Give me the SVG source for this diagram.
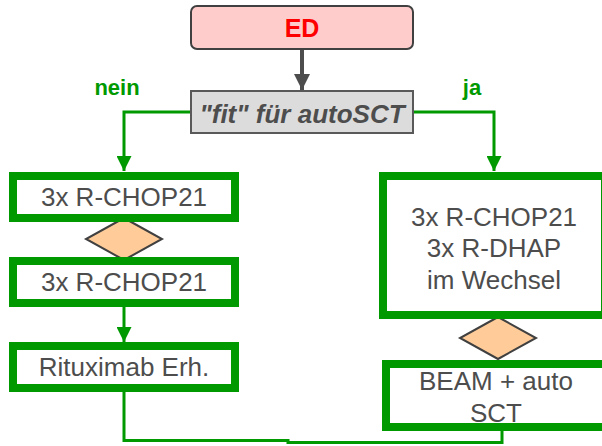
<svg xmlns="http://www.w3.org/2000/svg" width="602" height="446" viewBox="0 0 602 446">
<style>
.box{fill:#ffffff;stroke:#009900;stroke-width:8}
.dia{fill:#ffcc99;stroke:#404040;stroke-width:2}
.t{font-family:"Liberation Sans",Arial,sans-serif;font-size:26px;fill:#4d4d4d;text-anchor:middle}
.lbl{font-family:"Liberation Sans",Arial,sans-serif;font-size:22px;font-weight:bold;fill:#009900;text-anchor:middle}
.g{fill:none;stroke:#009900;stroke-width:3}
</style>
<defs>
<marker id="ag" markerUnits="userSpaceOnUse" markerWidth="16" markerHeight="15" refX="16" refY="8" orient="auto" viewBox="0 0 16 16">
<path d="M0,0 L16,8 L0,16 Z" fill="#009900"/>
</marker>
<marker id="ak" markerUnits="userSpaceOnUse" markerWidth="16" markerHeight="16" refX="16" refY="8" orient="auto" viewBox="0 0 16 16">
<path d="M0,0 L16,8 L0,16 Z" fill="#4d4d4d"/>
</marker>
</defs>
<rect width="602" height="446" fill="#ffffff"/>
<g id="connectors">
<line x1="302" y1="49" x2="302" y2="90" stroke="#4d4d4d" stroke-width="4" marker-end="url(#ak)"/>
<polyline class="g" points="190,112 124,112 124,171" marker-end="url(#ag)"/>
<polyline class="g" points="413,112 494,112 494,171" marker-end="url(#ag)"/>
<polyline class="g" points="124,307 124,342" marker-end="url(#ag)"/>
<polyline class="g" points="124,392 124,440.5 288,440.5 288,442.5 502,442.5 502,431"/>
</g>
<g id="ed">
<rect x="191" y="6" width="222" height="43" rx="6" fill="#ffcccc" stroke="#404040" stroke-width="2"/>
<text x="302" y="37" font-family="'Liberation Sans',Arial,sans-serif" font-size="25" font-weight="bold" fill="#ff0000" text-anchor="middle">ED</text>
</g>
<g id="fit">
<rect x="191" y="91" width="222" height="42" fill="#dcdcdc" stroke="#595959" stroke-width="2"/>
<text x="302" y="123" font-family="'Liberation Sans',Arial,sans-serif" font-size="26" font-weight="bold" font-style="italic" fill="#4d4d4d" text-anchor="middle">"fit" für autoSCT</text>
</g>
<g id="label-nein"><text class="lbl" x="117" y="95">nein</text></g>
<g id="label-ja"><text class="lbl" x="472" y="95">ja</text></g>
<g id="dia-left"><polygon class="dia" points="124,218 162,239 124,260 86,239"/></g>
<g id="dia-right"><polygon class="dia" points="498,317 536,338 498,359 460,338"/></g>
<g id="box-l1">
<rect class="box" x="13" y="176" width="222" height="42"/>
<text class="t" x="124" y="206">3x R-CHOP21</text>
</g>
<g id="box-l2">
<rect class="box" x="13" y="261" width="222" height="42"/>
<text class="t" x="124" y="291">3x R-CHOP21</text>
</g>
<g id="box-l3">
<rect class="box" x="13" y="346" width="222" height="42"/>
<text class="t" x="124" y="376">Rituximab Erh.</text>
</g>
<g id="box-r1">
<rect class="box" x="383" y="176" width="222" height="139"/>
<text class="t" x="494" y="226">3x R-CHOP21</text>
<text class="t" x="494" y="257">3x R-DHAP</text>
<text class="t" x="494" y="289">im Wechsel</text>
</g>
<g id="box-r2">
<rect class="box" x="386" y="364" width="222" height="63"/>
<text class="t" x="496" y="390">BEAM + auto</text>
<text class="t" x="496" y="422">SCT</text>
</g>
</svg>
